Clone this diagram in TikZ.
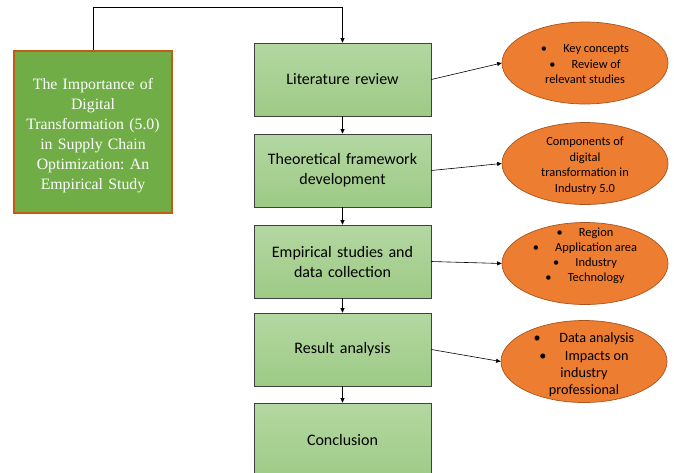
\documentclass[tikz,border=0pt]{standalone}
\usepackage{fontspec}
\setmainfont{Carlito}
\newfontfamily\serifft{Liberation Serif}
\usetikzlibrary{shapes.geometric,arrows.meta}
\definecolor{titlegreen}{HTML}{70AD47}
\definecolor{titleborder}{HTML}{C55A11}
\definecolor{boxtop}{HTML}{B4D7A2}
\definecolor{boxbot}{HTML}{9DCA85}
\definecolor{boxedge}{HTML}{404040}
\definecolor{ovalfill}{HTML}{ED7D31}
\definecolor{ovaledge}{HTML}{A9541C}
\tikzset{
  x=1pt, y=-1pt,
  titlebox/.style={draw=titleborder, line width=1.2pt, fill=titlegreen,
    minimum width=158pt, minimum height=162pt, inner sep=0pt},
  titletext/.style={text=white, inner sep=0pt, align=center,
    font=\serifft\frenchspacing\fontsize{15.8}{20}\selectfont, text width=150pt},
  stepbox/.style={draw=boxedge, line width=0.7pt, top color=boxtop, bottom color=boxbot,
    minimum width=177pt, minimum height=73pt, inner sep=0pt, align=center,
    font=\fontsize{16}{20}\selectfont, text width=170pt},
  oval/.style={ellipse, draw=ovaledge, line width=0.7pt, fill=ovalfill,
    minimum width=166pt, minimum height=82pt, inner sep=0pt},
  ovaltext/.style={inner sep=0pt, align=center, font=\fontsize{12.4}{15.5}\selectfont},
  conn/.style={draw=black, line width=0.6pt, -{Triangle[length=4.5pt,width=4pt]}},
}
\newcommand{\bul}{\textbullet\hspace{1.3em}}
\begin{document}
\begin{tikzpicture}
\useasboundingbox (0,0) rectangle (674,472);
\clip (0,0) rectangle (674,472);
\node[titlebox] (title) at (93,132) {};
\node[titletext] (titlet) at (93,135.5) {The Importance of\\ Digital\\ Transformation (5.0)\\ in Supply Chain\\ Optimization: An\\ Empirical Study};
\node[stepbox] (s1) at (342.5,79.5) {Literature review};
\node[stepbox] (s2) at (342.5,170.5) {Theoretical framework\\ development};
\node[stepbox] (s3) at (342.5,261.5) {Empirical studies and\\ data collection};
\node[stepbox] (s4) at (342.5,349.5) {Result analysis};
\node[stepbox, minimum height=80pt] (s5) at (342.5,443) {\raisebox{6pt}{Conclusion}};
\node[oval] (e1) at (585,63) {};
\node[oval] (e2) at (585,163.5) {};
\node[oval] (e3) at (585,263.5) {};
\node[oval] (e4) at (584,361.5) {};
\node[ovaltext] (e1t) at (585,64.5) {\bul Key concepts\\ \bul Review of\\ relevant studies};
\node[ovaltext] (e2t) at (585,165.5) {Components of\\ digital\\ transformation in\\ Industry 5.0};
\node[ovaltext, font=\fontsize{12.4}{15}\selectfont] (e3t) at (585,255.5) {\bul Region\\ \bul Application area\\ \bul Industry\\ \bul Technology};
\node[ovaltext, font=\fontsize{14.2}{17.3}\selectfont] (e4t) at (584,365) {\bul Data analysis\\ \bul Impacts on\\ industry\\ professional};
\coordinate (t1) at (93,7);
\coordinate (t2) at (342.5,7);
\draw[conn] (title.north) -- (t1) -- (t2) -- (s1.north);
\draw[conn] (s1) -- (s2);
\draw[conn] (s2) -- (s3);
\draw[conn] (s3) -- (s4);
\draw[conn] (s4) -- (s5);
\draw[conn] (s1.east) -- (e1.west);
\draw[conn] (s2.east) -- (e2.west);
\draw[conn] (s3.east) -- (e3.west);
\draw[conn] (s4.east) -- (e4.west);
\end{tikzpicture}
\end{document}
